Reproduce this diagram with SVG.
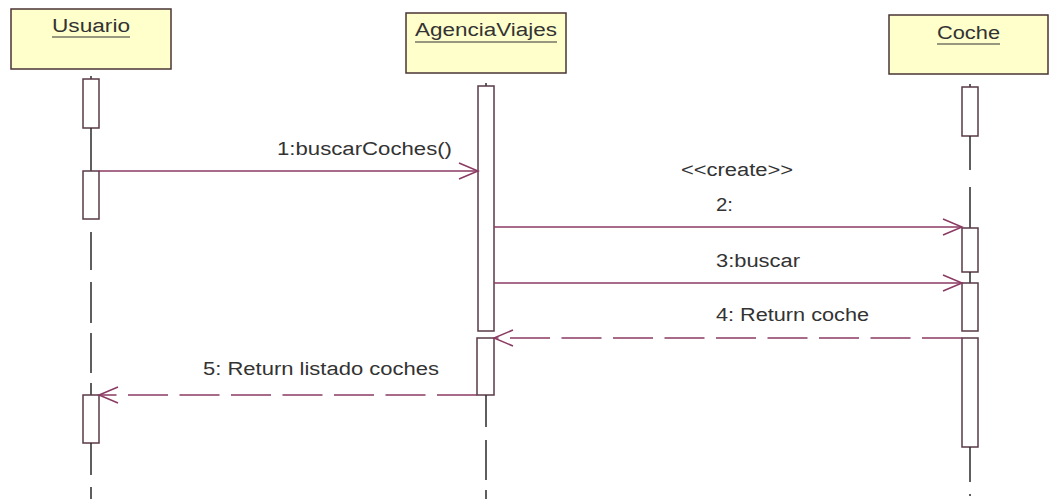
<svg xmlns="http://www.w3.org/2000/svg" width="1049" height="499" viewBox="0 0 1049 499">
<style>
.box{fill:#ffffcc;stroke:#4a3535;stroke-width:1.5}
.act{fill:#ffffff;stroke:#5a3a48;stroke-width:1.5}
.life{stroke:#2a2a2a;stroke-width:1.5;fill:none}
.msg{stroke:#8a3a62;stroke-width:1.5;fill:none}
.ret{stroke:#8a3a62;stroke-width:1.5;fill:none;stroke-dasharray:40 11.5}
.t{font-family:"Liberation Sans",Arial,sans-serif;font-size:18px;fill:#333333}
.ul{stroke:#333333;stroke-width:1.2}
</style>
<defs>
<marker id="open" markerUnits="userSpaceOnUse" markerWidth="24" markerHeight="20" viewBox="-21 -10 24 20" refX="0" refY="0" orient="auto">
<path d="M-19,-8 L0,0 L-19,8" fill="none" stroke="#8a3a62" stroke-width="1.5"/>
</marker>
</defs>
<rect width="1049" height="499" fill="#ffffff"/>
<g id="usuario">
<rect class="box" x="11" y="9" width="160" height="60"/>
<text class="t" x="52" y="32" textLength="78" lengthAdjust="spacingAndGlyphs">Usuario</text>
<line class="ul" x1="52" y1="37" x2="130" y2="37"/>
<line class="life" x1="91" y1="76" x2="91" y2="79"/>
<rect class="act" x="83" y="79" width="16" height="49"/>
<line class="life" x1="91" y1="128" x2="91" y2="171"/>
<rect class="act" x="83" y="171" width="16" height="48"/>
<path class="life" d="M91,232 V270 M91,282 V323 M91,333 V373 M91,383 V395"/>
<rect class="act" x="83" y="395" width="16" height="48"/>
<path class="life" d="M91,443 V475 M91,487 V499"/>
</g>
<g id="agenciaviajes">
<rect class="box" x="406" y="13" width="160" height="60"/>
<text class="t" x="415" y="36" textLength="142" lengthAdjust="spacingAndGlyphs">AgenciaViajes</text>
<line class="ul" x1="415" y1="42" x2="557" y2="42"/>
<line class="life" x1="486" y1="83" x2="486" y2="86"/>
<rect class="act" x="478" y="86" width="16" height="245"/>
<rect class="act" x="477" y="338" width="17" height="57"/>
<path class="life" d="M486,395 V427 M486,440 V480 M486,490 V499"/>
</g>
<g id="coche">
<rect class="box" x="889" y="15" width="159" height="59"/>
<text class="t" x="937" y="39" textLength="63" lengthAdjust="spacingAndGlyphs">Coche</text>
<line class="ul" x1="937" y1="44" x2="1000" y2="44"/>
<line class="life" x1="970" y1="84" x2="970" y2="87"/>
<rect class="act" x="962" y="87" width="16" height="49"/>
<path class="life" d="M970,136 V170 M970,187 V228"/>
<rect class="act" x="962" y="228" width="16" height="44"/>
<line class="life" x1="970" y1="272" x2="970" y2="283"/>
<rect class="act" x="962" y="283" width="16" height="48"/>
<rect class="act" x="962" y="338" width="16" height="109"/>
<path class="life" d="M970,447 V482 M970,494 V496"/>
</g>
<g id="connectors">
<line class="msg" x1="99" y1="171" x2="478" y2="171" marker-end="url(#open)"/>
<text class="t" x="277" y="155" textLength="175" lengthAdjust="spacingAndGlyphs">1:buscarCoches()</text>
<line class="msg" x1="494" y1="227" x2="962" y2="227" marker-end="url(#open)"/>
<text class="t" x="681" y="176" textLength="112" lengthAdjust="spacingAndGlyphs">&lt;&lt;create&gt;&gt;</text>
<text class="t" x="716" y="211" textLength="17" lengthAdjust="spacingAndGlyphs">2:</text>
<line class="msg" x1="494" y1="283" x2="962" y2="283" marker-end="url(#open)"/>
<text class="t" x="716" y="267" textLength="84" lengthAdjust="spacingAndGlyphs">3:buscar</text>
<line class="ret" x1="962" y1="338" x2="494" y2="338" marker-end="url(#open)"/>
<text class="t" x="716" y="321" textLength="153" lengthAdjust="spacingAndGlyphs">4: Return coche</text>
<line class="ret" x1="477" y1="395" x2="99" y2="395" marker-end="url(#open)"/>
<text class="t" x="203" y="375" textLength="236" lengthAdjust="spacingAndGlyphs">5: Return listado coches</text>
</g>
</svg>
